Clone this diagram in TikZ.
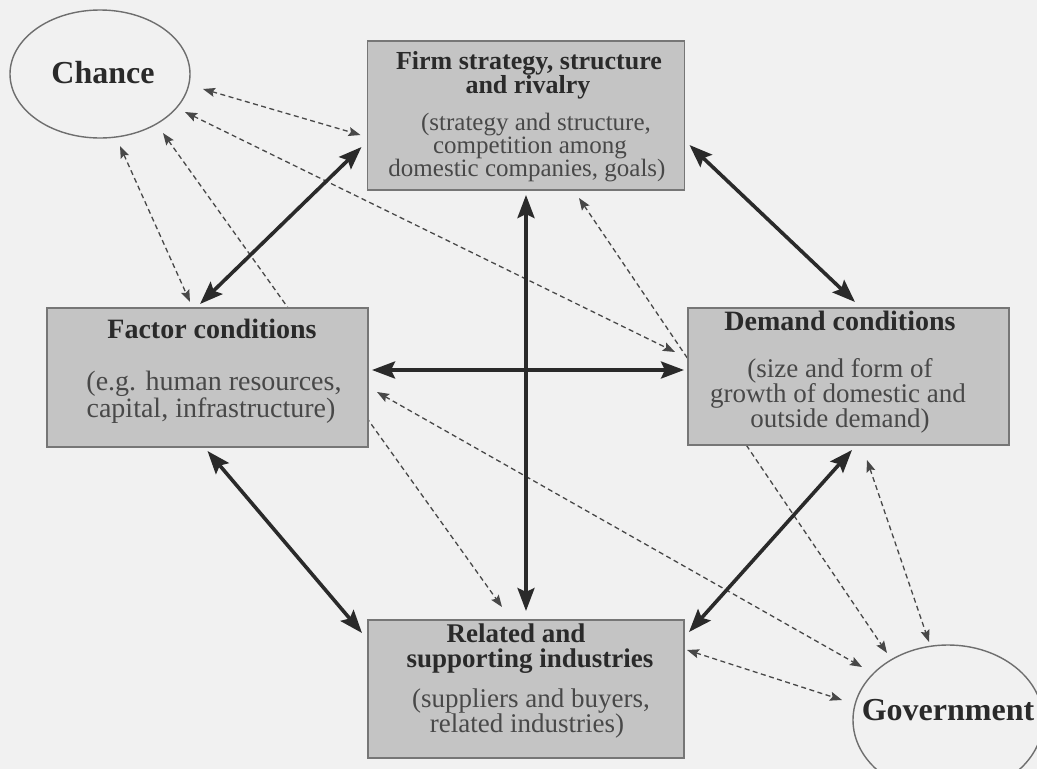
\documentclass[tikz,border=0pt]{standalone}
\usepackage{fontspec}
\setmainfont{Liberation Serif}
\usetikzlibrary{arrows.meta,shapes.geometric,calc,backgrounds}

\definecolor{paper}{RGB}{241,241,241}
\definecolor{boxfill}{RGB}{196,196,196}
\definecolor{boxline}{RGB}{118,118,118}
\definecolor{ink}{RGB}{42,42,42}
\definecolor{inksoft}{RGB}{72,72,72}
\definecolor{dashink}{RGB}{72,72,72}
\definecolor{ovalline}{RGB}{110,110,110}

\begin{document}
\begin{tikzpicture}[x=1pt,y=-1pt,
  factorbox/.style={draw=boxline, line width=1.8pt, fill=boxfill, inner sep=0pt, outer sep=0pt},
  oval/.style={ellipse, draw=ovalline, line width=1.4pt, inner sep=0pt, outer sep=0pt},
  headline/.style={anchor=base, inner sep=0pt, text=ink, font=\bfseries\fontsize{#1}{#1}\selectfont},
  subline/.style={anchor=base, inner sep=0pt, text=inksoft, font=\fontsize{#1}{#1}\selectfont},
  strong/.style={line width=3.6pt, draw=ink,
    {Stealth[length=23pt,width=17pt,inset=4pt]}-{Stealth[length=23pt,width=17pt,inset=4pt]}},
  weak/.style={line width=1.3pt, draw=dashink, dash pattern=on 5pt off 3.5pt,
    {Stealth[length=12pt,width=9pt,inset=2pt]}-{Stealth[length=12pt,width=9pt,inset=2pt]}},
]
\useasboundingbox (0,0) rectangle (1037,769);
\clip (0,0) rectangle (1037,769);

% the four determinants
\node[factorbox, minimum width=317pt, minimum height=149pt] (firm)    at (526,115.5) {};
\node[factorbox, minimum width=321pt, minimum height=139pt] (factor)  at (207.5,377.5) {};
\node[factorbox, minimum width=321pt, minimum height=137pt] (demand)  at (848.5,376.5) {};
\node[factorbox, minimum width=316pt, minimum height=138pt] (related) at (526,689) {};

% the two outside influences
\node[oval, minimum width=180pt, minimum height=128pt] (chance) at (100,74) {};
\node[oval, minimum width=190pt, minimum height=150pt] (gov)    at (948,720) {};

% box texts
\node[headline=26] (firmA) at (529,69)  {Firm strategy, structure};
\node[headline=26] (firmB) at (528,93)  {and rivalry};
\node[subline=25]  (firmC) at (536,130) {(strategy and structure,};
\node[subline=25]  (firmD) at (530,153) {competition among};
\node[subline=25]  (firmE) at (527,176) {domestic companies, goals)};

\node[headline=28] (factorA) at (212,338) {Factor conditions};
\node[subline=28]  (factorB) at (214,390) {(e.g. human resources,};
\node[subline=28]  (factorC) at (211,417) {capital, infrastructure)};

\node[headline=28] (demandA) at (840,330) {Demand conditions};
\node[subline=27]  (demandB) at (840,377) {(size and form of};
\node[subline=27]  (demandC) at (838,402) {growth of domestic and};
\node[subline=27]  (demandD) at (840,427) {outside demand)};

\node[headline=27] (relA) at (516,642) {Related and};
\node[headline=27] (relB) at (530,667) {supporting industries};
\node[subline=27]  (relC) at (531,707) {(suppliers and buyers,};
\node[subline=27]  (relD) at (527,732) {related industries)};

\node[headline=32] (chanceT) at (103,83)  {Chance};
\node[headline=32] (govT)    at (948,720) {Government};

% mutual links of the diamond
\draw[strong] ($(firm.south west)+(-6,-43)$) -- ($(factor.north)+(-7.5,-4)$);
\draw[strong] ($(firm.south east)+(5,-45)$) -- ($(demand.north)+(6.5,-6)$);
\draw[strong] ($(factor.south)+(0,4)$) -- ($(related.north west)+(-6,13)$);
\draw[strong] ($(demand.south)+(3.5,5)$) -- ($(related.north east)+(5,12)$);
\draw[strong] ($(firm.south)+(0,5)$) -- ($(related.north)+(0,-9)$);
\draw[strong] ($(factor.east)+(4,-7.5)$) -- ($(demand.west)+(-4,-6.5)$);

% paper and the dashed influences, behind the boxes
\begin{scope}[on background layer]
  \fill[paper] (0,0) rectangle (1037,769);
  \draw[weak] ($(chance.east)+(13,15)$) -- ($(firm.west)+(-7,19.5)$);
  \draw[weak] ($(chance.east)+(-5,38)$) -- ($(demand.west)+(-13,-24.5)$);
  \draw[weak] ($(chance.south)+(63,-5)$) -- ($(related.north)+(-24,-13)$);
  \draw[weak] ($(chance.south)+(20,8)$) -- ($(factor.north)+(-17.5,-6)$);
  \draw[weak] ($(related.north east)+(3,30)$) -- ($(gov.west)+(-11,-20)$);
  \draw[weak] ($(demand.south)+(18.5,15)$) -- ($(gov.north)+(-19,-3)$);
  \draw[weak] ($(firm.south)+(53,8)$) -- ($(gov.north)+(-61,8)$);
  \draw[weak] ($(factor.east)+(9,14.5)$) -- ($(gov.west)+(9,-53)$);
\end{scope}
\end{tikzpicture}
\end{document}
